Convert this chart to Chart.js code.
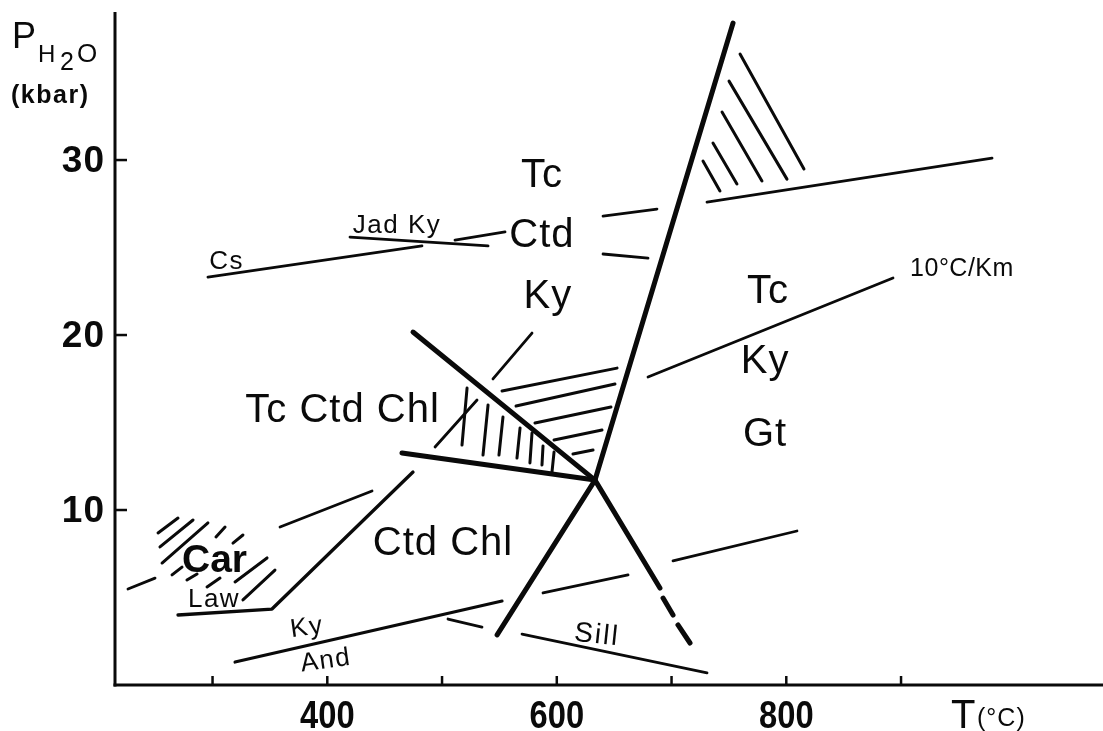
<!DOCTYPE html>
<html><head><meta charset="utf-8">
<script src="https://cdn.jsdelivr.net/npm/chart.js@4.4.0/dist/chart.umd.min.js"></script>
<style>html,body{margin:0;padding:0;background:#fff}</style>
</head><body>
<canvas id="c" width="1103" height="731"></canvas>
<script>
// ---------- DATA (T in °C, P in kbar) ----------
const xTicks = [300, 400, 500, 600, 700, 800, 900];
const xTickLabels = ['', '400', '', '600', '', '800', ''];
const yTicks = [10, 20, 30];
const yTickLabels = ['10', '20', '30'];

// heavy reaction curves
const curveKyUpper = [[548.0, 2.86], [633.3, 11.71], [753.6, 37.83]];
const curveTcChl = [[474.7, 20.17], [633.3, 11.71], [689.9, 5.54]];
const curveTcChlDash1 = [[692.6, 4.97], [701.3, 4.00]];
const curveTcChlDash2 = [[705.6, 3.43], [716.1, 2.40]];
const curveCtdChl = [[465.1, 13.26], [633.3, 11.71]];

// thin curves
const lineCs = [[296.0, 23.31], [482.5, 25.09]];
const lineJadKy = [[419.8, 25.60], [540.1, 25.09]];
const lineJadKyB = [[511.3, 25.43], [554.9, 25.89]];
const lineCtdUp = [[640.3, 26.80], [687.3, 27.20]];
const lineCtdLow = [[640.3, 24.63], [679.5, 24.40]];
const lineHighP = [[730.9, 27.60], [979.3, 30.11]];
const lineGeotherm = [[679.5, 17.60], [893.0, 23.26]];
const lineKyShort = [[544.4, 17.49], [578.4, 20.11]];
const lineLaw = [[269.9, 4.00], [351.8, 4.34], [474.7, 12.17]];
const lineLawUp = [[493.9, 13.60], [530.5, 16.29]];
const lineCarA = [[226.3, 5.49], [249.9, 6.11]];
const lineCarB = [[358.8, 9.03], [439.0, 11.09]];
const lineKyAnd1 = [[319.6, 1.31], [552.3, 4.80]];
const lineKyAnd2 = [[588.0, 5.26], [662.1, 6.29]];
const lineKyAnd3 = [[701.3, 7.09], [809.3, 8.80]];
const lineSill1 = [[505.2, 3.77], [534.8, 3.31]];
const lineSill2 = [[569.7, 2.91], [730.9, 0.69]];

// hatching strokes [T1, P1, T2, P2]
const hatchTriangle = [
  [521.8, 16.97, 517.4, 13.71], [540.1, 16.00, 535.7, 13.14], [553.1, 15.31, 549.6, 13.14],
  [568.0, 14.69, 565.3, 12.97], [578.4, 14.40, 576.6, 12.69], [588.0, 13.66, 587.1, 12.57],
  [597.6, 13.31, 595.8, 12.17]
];
const hatchKyField = [
  [552.3, 16.80, 652.5, 18.11], [564.5, 15.94, 650.7, 17.20], [581.0, 14.97, 647.2, 15.89],
  [597.6, 14.00, 639.4, 14.57], [614.1, 13.20, 631.6, 13.43]
];
const hatchHighP = [
  [759.7, 36.06, 815.4, 29.49], [750.1, 34.51, 800.6, 28.91], [744.0, 32.74, 778.8, 28.80],
  [736.1, 30.97, 757.0, 28.63], [727.4, 29.94, 742.2, 28.23]
];
const hatchCar = [
  [252.5, 8.69, 269.9, 9.54], [254.2, 7.89, 283.0, 9.43], [256.0, 6.97, 296.0, 9.26],
  [264.7, 6.29, 273.4, 6.74], [277.7, 6.00, 286.5, 6.34], [303.0, 8.46, 310.9, 9.03],
  [317.8, 8.11, 326.5, 8.57], [295.2, 5.60, 306.5, 6.11], [319.6, 5.89, 347.5, 7.26],
  [326.5, 4.86, 354.4, 6.57]
];

// field labels
const fieldLabels = ['Tc', 'Ctd', 'Ky', 'Tc', 'Ky', 'Gt', 'Tc Ctd Chl', 'Ctd Chl'];
const fieldT = [587.1, 587.1, 592.3, 784.1, 781.5, 781.5, 413.3, 500.8];
const fieldP = [28.46, 25.03, 21.54, 21.83, 17.83, 13.66, 15.03, 7.43];

const minorLabels = ['Cs', 'Jad Ky', '10°C/Km', 'Law', 'Ky', 'And', 'Sill'];
const minorT = [312.2, 460.8, 953.1, 301.3, 383.2, 399.7, 634.2];
const minorP = [23.77, 25.83, 23.37, 4.46, 2.86, 0.97, 2.40];

const boldLabels = ['Car'];
const boldT = [301.7];
const boldP = [6.46];

// ---------- BUILD ----------
const INK = '#0a0a0a';
const pts = a => a.map(p => ({x: p[0], y: p[1]}));
const seg = h => [{x: h[0], y: h[1]}, {x: h[2], y: h[3]}];
const datasets = [];
function add(data, w) {
  datasets.push({data, showLine: true, borderColor: INK, borderWidth: w,
    pointRadius: 0, borderCapStyle: 'round', borderJoinStyle: 'round', fill: false, tension: 0});
}
[curveKyUpper, curveTcChl, curveTcChlDash1, curveTcChlDash2, curveCtdChl].forEach(a => add(pts(a), 5));
[lineCs, lineJadKy, lineJadKyB, lineCtdUp, lineCtdLow, lineHighP, lineGeotherm, lineKyShort,
 lineLawUp, lineCarA, lineCarB, lineKyAnd2, lineKyAnd3, lineSill1, lineSill2].forEach(a => add(pts(a), 2.8));
add(pts(lineLaw), 3.3);
add(pts(lineKyAnd1), 3.1);
[hatchTriangle, hatchKyField, hatchHighP, hatchCar].forEach(g => g.forEach(h => add(seg(h), 3)));

function txt(c, s, x, y, font, o) {
  o = o || {};
  c.save();
  c.font = font; c.fillStyle = INK; c.textAlign = o.align || 'center'; c.textBaseline = 'alphabetic';
  if ('letterSpacing' in c) c.letterSpacing = (o.ls || 0) + 'px';
  c.translate(x, y);
  if (o.rot) c.rotate(o.rot * Math.PI / 180);
  if (o.sx) c.scale(o.sx, 1);
  c.fillText(s, 0, 0);
  c.restore();
}

const SANS = '"Liberation Sans", Arial, Helvetica, sans-serif';
const minorStyle = [
  {ls: 1.5}, {ls: 1.5}, {ls: 0.5, size: 25}, {ls: 1.5}, {ls: 1.5, rot: -8}, {ls: 1.5, rot: -8}, {ls: 2, rot: 6, size: 28}
];

const annot = {
  id: 'annot',
  afterDraw(chart) {
    const c = chart.ctx, xs = chart.scales.x, ys = chart.scales.y, a = chart.chartArea;
    c.save();
    c.strokeStyle = INK; c.lineCap = 'butt';
    // axes
    c.lineWidth = 3;
    c.beginPath(); c.moveTo(a.left, a.top); c.lineTo(a.left, a.bottom + 1.5); c.stroke();
    c.beginPath(); c.moveTo(a.left - 1.5, a.bottom); c.lineTo(a.right, a.bottom); c.stroke();
    // ticks (inward)
    c.lineWidth = 2.5;
    xTicks.forEach((v, i) => {
      const px = xs.getPixelForValue(v);
      c.beginPath(); c.moveTo(px, a.bottom); c.lineTo(px, a.bottom - 9); c.stroke();
      if (xTickLabels[i]) txt(c, xTickLabels[i], px, a.bottom + 43, 'bold 38px ' + SANS, {sx: 0.86});
    });
    yTicks.forEach((v, i) => {
      const py = ys.getPixelForValue(v);
      c.beginPath(); c.moveTo(a.left, py); c.lineTo(a.left + 12, py); c.stroke();
      txt(c, yTickLabels[i], a.left - 10, py + 12, 'bold 37px ' + SANS, {align: 'right', ls: 1});
    });
    // axis titles
    txt(c, 'P', 12, 48, '36px ' + SANS, {align: 'left'});
    txt(c, 'H', 38, 62, '24px ' + SANS, {align: 'left'});
    txt(c, '2', 60, 70, '25px ' + SANS, {align: 'left'});
    txt(c, 'O', 77, 62, '26px ' + SANS, {align: 'left'});
    txt(c, '(kbar)', 11, 103, 'bold 25px ' + SANS, {align: 'left', ls: 1.5});
    txt(c, 'T', 951, 728, '40px ' + SANS, {align: 'left'});
    txt(c, '(°C)', 977, 726, '25px ' + SANS, {align: 'left', ls: 1});
    // field labels
    fieldLabels.forEach((s, i) => txt(c, s, xs.getPixelForValue(fieldT[i]), ys.getPixelForValue(fieldP[i]), '40px ' + SANS, {ls: 1}));
    minorLabels.forEach((s, i) => {
      const st = minorStyle[i];
      txt(c, s, xs.getPixelForValue(minorT[i]), ys.getPixelForValue(minorP[i]), (st.size || 26) + 'px ' + SANS, st);
    });
    boldLabels.forEach((s, i) => txt(c, s, xs.getPixelForValue(boldT[i]), ys.getPixelForValue(boldP[i]), 'bold 39px ' + SANS));
    c.restore();
  }
};

new Chart(document.getElementById('c'), {
  type: 'scatter',
  data: {datasets},
  options: {
    responsive: false, animation: false, devicePixelRatio: 1,
    layout: {padding: {left: 115, right: 0, top: 12, bottom: 46}},
    plugins: {legend: {display: false}, tooltip: {enabled: false}},
    scales: {
      x: {type: 'linear', min: 215, max: 1076, display: false},
      y: {type: 'linear', min: 0, max: 38.46, display: false}
    }
  },
  plugins: [annot]
});
</script>
</body></html>
